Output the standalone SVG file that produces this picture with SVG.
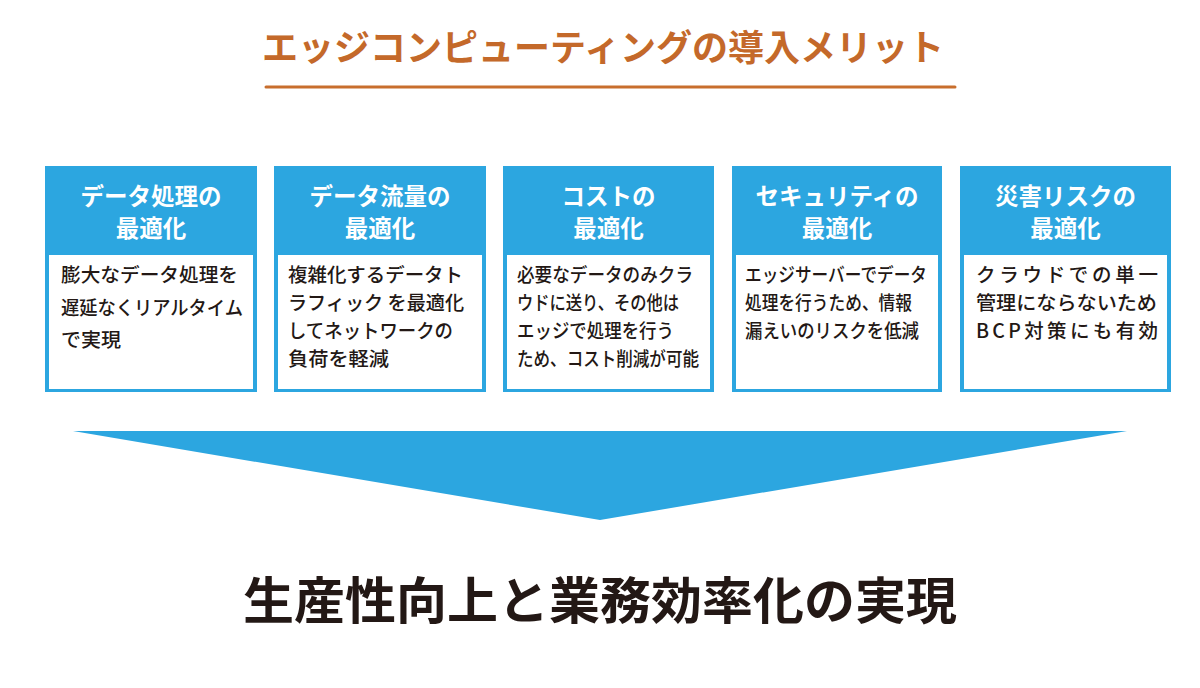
<svg xmlns="http://www.w3.org/2000/svg" width="1200" height="688" viewBox="0 0 1200 688">
<style>
.jp{font-family:"Noto Sans CJK JP","Noto Sans CJK SC",sans-serif}
.title{font-size:36px;font-weight:700;fill:#c4692a}
.head{font-size:23.5px;font-weight:700;fill:#ffffff;text-anchor:middle}
.body{font-size:19.5px;font-weight:500;fill:#231815}
.outer{fill:#2ca6e0}
.inner{fill:#ffffff}
.result{font-size:50px;font-weight:700;fill:#231815;text-anchor:middle}
</style>
<rect width="1200" height="688" fill="#ffffff"/>
<g id="title">
<text class="jp title" x="603" y="61" text-anchor="middle">エッジコンピューティングの導入メリット</text>
<line x1="266" y1="87" x2="955" y2="87" stroke="#c86e2d" stroke-width="3" stroke-linecap="round"/>
</g>
<g id="node1">
<rect class="outer" x="45" y="166" width="212" height="226"/>
<rect class="inner" x="49" y="255" width="204" height="134"/>
<text class="jp head" x="151" y="205">データ処理の</text>
<text class="jp head" x="151" y="237">最適化</text>
<text class="jp body" x="61" y="282" textLength="177" lengthAdjust="spacingAndGlyphs">膨大なデータ処理を</text>
<text class="jp body" x="61" y="315" textLength="182" lengthAdjust="spacingAndGlyphs">遅延なくリアルタイム</text>
<text class="jp body" x="61" y="347" textLength="60" lengthAdjust="spacingAndGlyphs">で実現</text>
</g>
<g id="node2">
<rect class="outer" x="274" y="166" width="212" height="226"/>
<rect class="inner" x="278" y="255" width="204" height="134"/>
<text class="jp head" x="380" y="205">データ流量の</text>
<text class="jp head" x="380" y="237">最適化</text>
<text class="jp body" x="288" y="282" textLength="175" lengthAdjust="spacingAndGlyphs">複雑化するデータト</text>
<text class="jp body" x="288" y="310" textLength="176" lengthAdjust="spacingAndGlyphs">ラフィック を最適化</text>
<text class="jp body" x="288" y="338" textLength="165" lengthAdjust="spacingAndGlyphs">してネットワークの</text>
<text class="jp body" x="288" y="366" textLength="101" lengthAdjust="spacingAndGlyphs">負荷を軽減</text>
</g>
<g id="node3">
<rect class="outer" x="503" y="166" width="211" height="226"/>
<rect class="inner" x="507" y="255" width="203" height="134"/>
<text class="jp head" x="608.5" y="205">コストの</text>
<text class="jp head" x="608.5" y="237">最適化</text>
<text class="jp body" x="517" y="282" textLength="176" lengthAdjust="spacingAndGlyphs">必要なデータのみクラ</text>
<text class="jp body" x="517" y="310" textLength="162" lengthAdjust="spacingAndGlyphs">ウドに送り、その他は</text>
<text class="jp body" x="517" y="338" textLength="157" lengthAdjust="spacingAndGlyphs">エッジで処理を行う</text>
<text class="jp body" x="517" y="366" textLength="182" lengthAdjust="spacingAndGlyphs">ため、コスト削減が可能</text>
</g>
<g id="node4">
<rect class="outer" x="732" y="166" width="210" height="226"/>
<rect class="inner" x="736" y="255" width="202" height="134"/>
<text class="jp head" x="837" y="205">セキュリティの</text>
<text class="jp head" x="837" y="237">最適化</text>
<text class="jp body" x="745" y="282" textLength="182" lengthAdjust="spacingAndGlyphs">エッジサーバーでデータ</text>
<text class="jp body" x="745" y="310" textLength="167" lengthAdjust="spacingAndGlyphs">処理を行うため、情報</text>
<text class="jp body" x="745" y="338" textLength="174" lengthAdjust="spacingAndGlyphs">漏えいのリスクを低減</text>
</g>
<g id="node5">
<rect class="outer" x="960" y="166" width="211" height="226"/>
<rect class="inner" x="964" y="255" width="203" height="134"/>
<text class="jp head" x="1065.5" y="205">災害リスクの</text>
<text class="jp head" x="1065.5" y="237">最適化</text>
<text class="jp body" x="976" y="282" textLength="182" lengthAdjust="spacing">クラウドでの単一</text>
<text class="jp body" x="976" y="310" textLength="181" lengthAdjust="spacingAndGlyphs">管理にならないため</text>
<text class="jp body" x="976" y="338" textLength="182" lengthAdjust="spacing">BCP対策にも有効</text>
</g>
<g id="connectors">
<polygon points="73,431 1127,431 600,520" fill="#2ca6e0"/>
</g>
<g id="result">
<text class="jp result" x="600" y="619" textLength="714" lengthAdjust="spacingAndGlyphs">生産性向上と業務効率化の実現</text>
</g>
</svg>
